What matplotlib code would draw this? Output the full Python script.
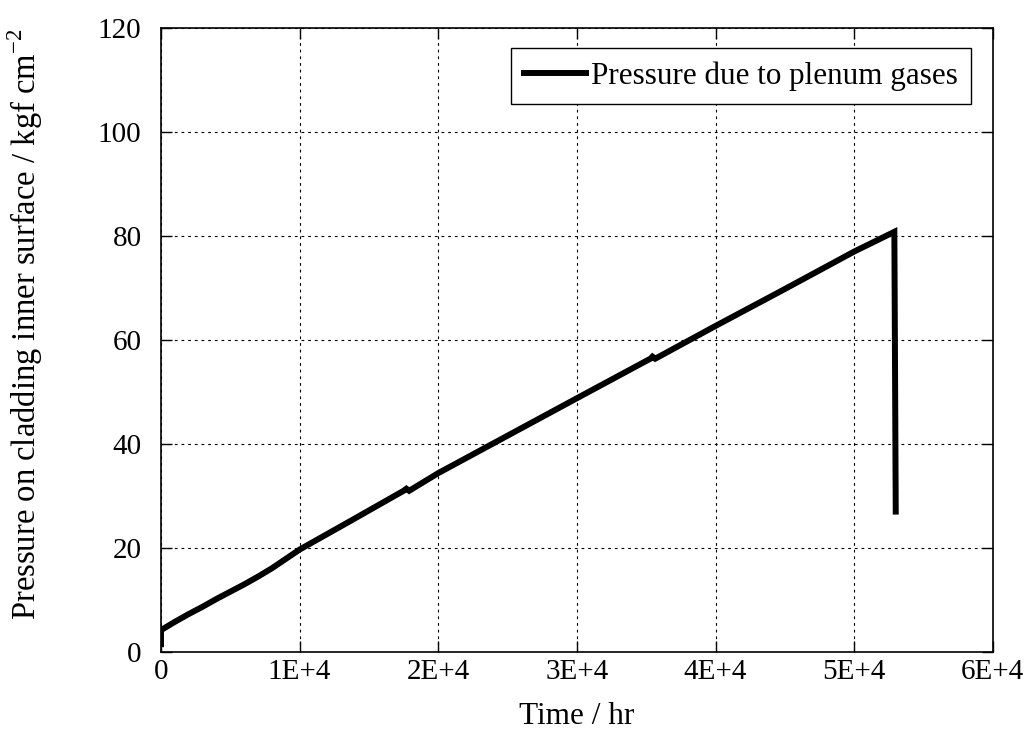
import matplotlib.pyplot as plt

plt.rcParams['font.family'] = ['Liberation Serif', 'DejaVu Serif']
plt.rcParams['mathtext.fontset'] = 'custom'
plt.rcParams['mathtext.rm'] = 'Liberation Serif'

# time (hr) and plenum gas pressure (kgf/cm2)
time_hr = [0, 0, 500, 1000, 2000, 3000, 4000, 5000, 6000, 7000, 8000, 9000,
           10000, 13600, 17500, 17700, 17900, 20000, 25000, 30000,
           35300, 35450, 35650, 40000, 45000, 50000, 52900, 53000]
pressure = [1.5, 4.2, 5.0, 5.8, 7.3, 8.7, 10.2, 11.6, 13.0, 14.5, 16.1, 17.9,
            19.7, 25.1, 31.0, 31.4, 31.0, 34.4, 41.6, 48.8,
            56.4, 56.8, 56.4, 62.7, 69.8, 77.0, 80.8, 27.0]

xticks = [0, 10000, 20000, 30000, 40000, 50000, 60000]
xtick_labels = ['0', '1E+4', '2E+4', '3E+4', '4E+4', '5E+4', '6E+4']
yticks = [0, 20, 40, 60, 80, 100, 120]

fig = plt.figure(figsize=(10.32, 7.42), dpi=100)
ax = fig.add_axes([0.156, 0.1213, 0.806, 0.841])

ax.plot(time_hr, pressure, color='black', linewidth=4.3,
        solid_joinstyle='miter', label='Pressure due to plenum gases')

ax.set_xlim(0, 60000)
ax.set_ylim(0, 120)
ax.set_xticks(xticks)
ax.set_xticklabels(xtick_labels)
ax.set_yticks(yticks)
ax.tick_params(direction='in', length=8, width=1, top=True, right=True,
               labelsize=21)
ax.tick_params(axis='y', pad=14)
ax.tick_params(axis='x', pad=5)
ax.grid(True, color='black', linewidth=0.8, linestyle=(0, (2.5, 3.5)))
for s in ax.spines.values():
    s.set_linewidth(1.2)

ax.set_xlabel('Time / hr', fontsize=22.5, labelpad=12)
ax.set_ylabel('Pressure on cladding inner surface / kgf cm$^{-2}$',
              fontsize=23.5)
ax.yaxis.set_label_coords(-0.139, 0.526)

leg = ax.legend(loc='upper right', bbox_to_anchor=(0.9736, 0.9675),
                fontsize=22.4, fancybox=False, framealpha=1,
                edgecolor='black', handlelength=2.0, handletextpad=0.16,
                borderpad=0.42, borderaxespad=0)
leg.get_frame().set_linewidth(1.0)

fig.savefig('out.png', dpi=100)
